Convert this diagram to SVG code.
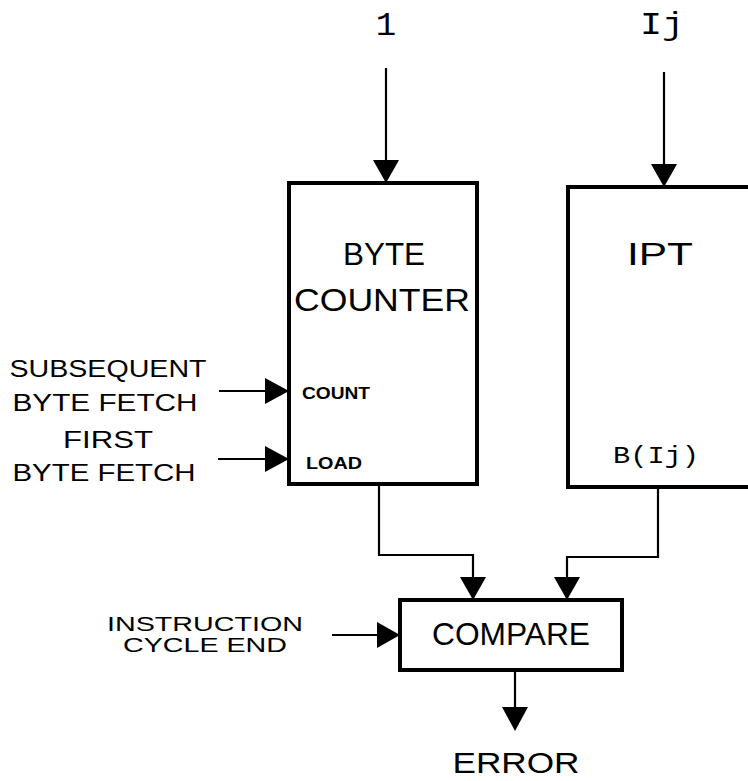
<svg xmlns="http://www.w3.org/2000/svg" width="748" height="781" viewBox="0 0 748 781">
<style>
.box{fill:#fff;stroke:#000;stroke-width:4}
.ln{fill:none;stroke:#000;stroke-width:2.2}
.ah{fill:#000}
.t{font-family:"Liberation Sans","DejaVu Sans",sans-serif;fill:#000}
.m{font-family:"Liberation Mono","DejaVu Sans Mono",monospace;fill:#000}
</style>
<rect width="748" height="781" fill="#fff"/>
<g id="byte_counter">
<rect class="box" x="289" y="183" width="188" height="301"/>
<text class="t" x="384" y="265" font-size="31" text-anchor="middle" textLength="82" lengthAdjust="spacingAndGlyphs">BYTE</text>
<text class="t" x="382" y="311" font-size="31" text-anchor="middle" textLength="176" lengthAdjust="spacingAndGlyphs">COUNTER</text>
<text class="t" x="302" y="399" font-size="16" font-weight="bold" textLength="68" lengthAdjust="spacingAndGlyphs">COUNT</text>
<text class="t" x="306" y="469" font-size="16" font-weight="bold" textLength="56" lengthAdjust="spacingAndGlyphs">LOAD</text>
</g>
<g id="ipt">
<rect class="box" x="568" y="187" width="190" height="300"/>
<text class="t" x="660" y="265" font-size="31" text-anchor="middle" textLength="66" lengthAdjust="spacingAndGlyphs">IPT</text>
<text class="m" x="656" y="463" font-size="24" text-anchor="middle" textLength="86" lengthAdjust="spacingAndGlyphs">B(Ij)</text>
</g>
<g id="compare">
<rect class="box" x="400" y="600" width="222" height="70"/>
<text class="t" x="511" y="645" font-size="31" text-anchor="middle" textLength="158" lengthAdjust="spacingAndGlyphs">COMPARE</text>
</g>
<g id="labels">
<text class="m" x="386" y="35" font-size="34" text-anchor="middle">1</text>
<text class="m" x="662" y="34" font-size="32" text-anchor="middle" textLength="44" lengthAdjust="spacingAndGlyphs">Ij</text>
<text class="t" x="108" y="377" font-size="24" text-anchor="middle" textLength="197" lengthAdjust="spacingAndGlyphs">SUBSEQUENT</text>
<text class="t" x="105" y="411" font-size="24" text-anchor="middle" textLength="185" lengthAdjust="spacingAndGlyphs">BYTE FETCH</text>
<text class="t" x="108" y="448" font-size="24" text-anchor="middle" textLength="90" lengthAdjust="spacingAndGlyphs">FIRST</text>
<text class="t" x="104" y="481" font-size="24" text-anchor="middle" textLength="183" lengthAdjust="spacingAndGlyphs">BYTE FETCH</text>
<text class="t" x="205" y="631" font-size="21" text-anchor="middle" textLength="196" lengthAdjust="spacingAndGlyphs">INSTRUCTION</text>
<text class="t" x="205" y="652" font-size="21" text-anchor="middle" textLength="164" lengthAdjust="spacingAndGlyphs">CYCLE END</text>
<text class="t" x="516" y="773" font-size="30" text-anchor="middle" textLength="127" lengthAdjust="spacingAndGlyphs">ERROR</text>
</g>
<g id="connectors">
<line class="ln" x1="386" y1="68" x2="386" y2="162"/>
<polygon class="ah" points="373,160 399,160 386,183"/>
<line class="ln" x1="664" y1="72" x2="664" y2="166"/>
<polygon class="ah" points="651,164 677,164 664,187"/>
<line class="ln" x1="219" y1="391" x2="268" y2="391"/>
<polygon class="ah" points="265,378 265,404 289,391"/>
<line class="ln" x1="218" y1="459" x2="268" y2="459"/>
<polygon class="ah" points="265,446 265,472 289,459"/>
<polyline class="ln" points="379,486 379,555 473,555 473,580"/>
<polygon class="ah" points="460,577 486,577 473,600"/>
<polyline class="ln" points="658,489 658,557 567,557 567,580"/>
<polygon class="ah" points="554,577 580,577 567,600"/>
<line class="ln" x1="332" y1="635" x2="380" y2="635"/>
<polygon class="ah" points="377,622 377,648 400,635"/>
<line class="ln" x1="515" y1="672" x2="515" y2="710"/>
<polygon class="ah" points="502,707 528,707 515,731"/>
</g>
</svg>
